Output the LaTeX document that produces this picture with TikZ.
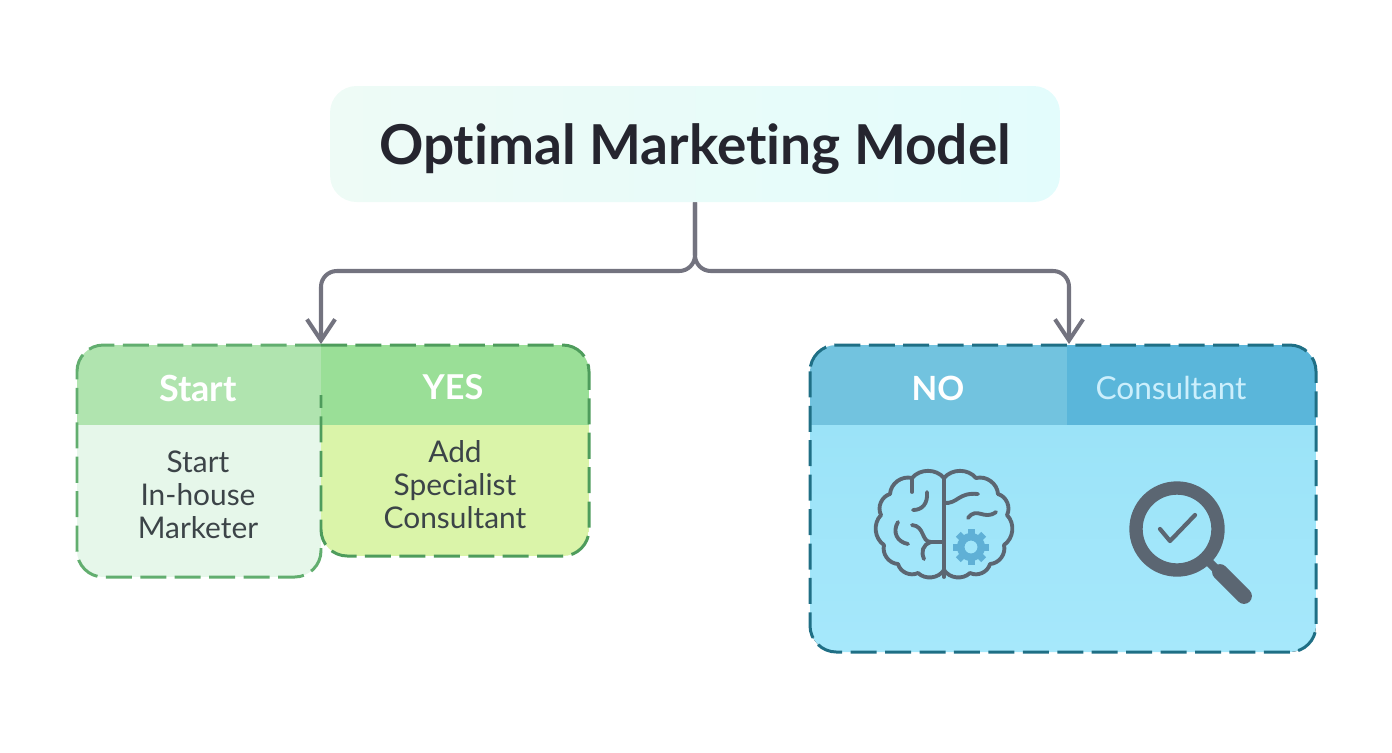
\documentclass[tikz,border=0pt]{standalone}
\usepackage{fontspec}
\setmainfont[Ligatures=NoCommon]{Lato}
\usetikzlibrary{arrows.meta,calc}

\definecolor{linkgray}{HTML}{73737F}
\definecolor{titleink}{HTML}{25252F}
\definecolor{titleleft}{HTML}{EEFBF6}
\definecolor{titlemid}{HTML}{E5F9F2}
\definecolor{titleright}{HTML}{E3FCFC}
\definecolor{bodyink}{HTML}{3C4448}
\definecolor{startline}{HTML}{62AE6F}
\definecolor{yesline}{HTML}{4E9C5C}
\definecolor{noline}{HTML}{1F6F85}
\definecolor{startheadfill}{HTML}{B0E4AF}
\definecolor{startbodyfill}{HTML}{E6F7EA}
\definecolor{yesheadfill}{HTML}{9ADF97}
\definecolor{yesbodyfill}{HTML}{DAF4A9}
\definecolor{noheadfill}{HTML}{72C3DF}
\definecolor{consheadfill}{HTML}{5AB6DA}
\definecolor{nobodyfill}{HTML}{9BE3F8}
\definecolor{nobodylow}{HTML}{A6E8FB}
\definecolor{iconink}{HTML}{5B6672}
\definecolor{gearfill}{HTML}{5FB0D6}

\begin{document}
\begin{tikzpicture}[x=0.02cm,y=-0.02cm,
  link/.style={draw=linkgray, line width=2.3pt, rounded corners=9pt},
  panelline/.style={line width=1.7pt, rounded corners=15pt, dash pattern=on 14.8pt off 4.8pt},
  headtext/.style={font=\bfseries\fontsize{#1}{22}\selectfont, text=white},
  bodytext/.style={font=\fontsize{17}{18.8}\selectfont, text=bodyink, align=center},
  icon/.style={draw=iconink, line width=2.2pt, line cap=round, line join=round}]

  \useasboundingbox (0,0) rectangle (1392,752);

  \node[rounded corners=15pt, left color=titleleft, middle color=titlemid, right color=titleright,
        minimum width=14.6cm, minimum height=2.32cm, text depth=0pt,
        font=\bfseries\fontsize{31.3}{36}\selectfont, text=titleink] (title) at (695,144) {Optimal Marketing Model};

  % left pair
  \begin{scope}
    \clip[rounded corners=15pt] (321,345) -- (77,345) -- (77,577) -- (321,577) -- (321,345);
    \fill[startbodyfill] (77,425) rectangle (321,577);
    \fill[startheadfill] (77,345) rectangle (321,425);
  \end{scope}
  \draw[panelline, startline] (321,345) -- (77,345) -- (77,577) -- (321,577) -- (321,540);
  \begin{scope}
    \clip[rounded corners=15pt] (321,345) -- (589,345) -- (589,556) -- (321,556) -- (321,345);
    \fill[yesbodyfill] (321,425) rectangle (589,556);
    \fill[yesheadfill] (321,345) rectangle (589,425);
  \end{scope}
  \draw[panelline, yesline] (321,345) -- (589,345) -- (589,556) -- (321,556) -- (321,395);

  \node[headtext=20.5] (starthead) at (198,388) {Start};
  \node[headtext=19.5] (yeshead) at (453,387) {YES};
  \node[bodytext] (startbody) at (198,495) {Start\\In-house\\Marketer};
  \node[bodytext] (yesbody) at (455,485) {Add\\Specialist\\Consultant};

  % right panel
  \begin{scope}
    \clip[rounded corners=15pt] (810,345) rectangle (1316,652);
    \fill[top color=nobodyfill, bottom color=nobodylow] (810,425) rectangle (1316,652);
    \fill[noheadfill] (810,345) rectangle (1067,425);
    \fill[consheadfill] (1067,345) rectangle (1316,425);
  \end{scope}
  \draw[panelline, noline] (810,345) rectangle (1316,652);

  \node[headtext=19] (nohead) at (938,388) {NO};
  \node[font=\fontsize{18}{22}\selectfont, text=cyan!20!white] (conshead) at (1171,388) {Consultant};

  % brain
  \draw[icon] (944,478) to[bend right=50] (912,478) to[bend right=50] (890,494)
    to[bend right=50] (881,515) to[bend right=50] (884,545) to[bend right=50] (898,564)
    to[bend right=50] (918,573) to[bend right=50] (944,570);
  \draw[icon] (944,478) to[bend left=50] (976,478) to[bend left=50] (998,494)
    to[bend left=50] (1007,515) to[bend left=50] (1004,545) to[bend left=50] (990,564)
    to[bend left=50] (970,573) to[bend left=50] (944,570);
  \draw[icon] (944,477) -- (944,577);
  \draw[icon] (912,478) -- (912,492);
  \draw[icon] (927,492) .. controls (928,504) and (922,510) .. (913,510);
  \draw[icon] (898,522) .. controls (892,532) and (897,542) .. (908,544);
  \draw[icon] (912,525) .. controls (925,526) and (921,542) .. (931,542) -- (944,542);
  \draw[icon] (931,542) .. controls (922,545) and (921,552) .. (924,559);
  \draw[icon] (944,503) .. controls (958,504) and (958,492) .. (978,494);
  \draw[icon] (968,518) .. controls (977,506) and (984,521) .. (996,512);
  \foreach \ang in {0,45,...,315}
    \fill[gearfill, shift={(971,547)}, rotate=\ang] (-3.5,-18) rectangle (3.5,-9);
  \fill[gearfill, even odd rule] (971,547) circle[radius=14] (971,547) circle[radius=6.5];

  % magnifier
  \draw[iconink, line width=7.6pt] (1177,529) circle[radius=41];
  \draw[iconink, line width=5pt] (1205,558) -- (1220,573);
  \draw[iconink, line width=9pt, line cap=round] (1220,572) -- (1244,596);
  \draw[iconink, line width=2.4pt, line cap=round, line join=round] (1160,529) -- (1170,541) -- (1195,515);

  % connectors
  \coordinate (fork) at (695,271);
  \coordinate (startin) at (321,344);
  \coordinate (noin) at (1069,344);
  \draw[link, -{Straight Barb[length=12pt, width=16pt]}] (title.south) -- (fork) -- (fork -| startin) -- (startin);
  \draw[link, -{Straight Barb[length=12pt, width=16pt]}] (title.south) -- (fork) -- (fork -| noin) -- (noin);

\end{tikzpicture}
\end{document}
